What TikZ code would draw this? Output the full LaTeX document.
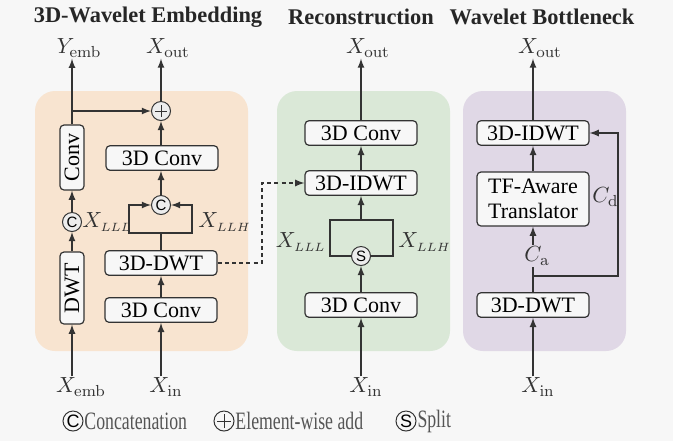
\documentclass[tikz,border=0pt]{standalone}
\usepackage[no-math]{fontspec}
\setmainfont{Liberation Serif}
\newfontfamily\tnr{Liberation Serif}
\newfontfamily\hlv{Liberation Sans}
\usetikzlibrary{arrows}
\definecolor{bgcol}{HTML}{F7F7F7}
\definecolor{linecol}{HTML}{333333}
\definecolor{embcol}{HTML}{F8E4D0}
\definecolor{reccol}{HTML}{DAE8D7}
\definecolor{botcol}{HTML}{E0D8E6}
\definecolor{opfill}{HTML}{EDEDED}
\definecolor{legcol}{HTML}{555555}
\newcommand{\vx}[1]{$X_{#1}$}
\newcommand{\vxs}[1]{$X_{\hbox{\fontsize{6}{7}\selectfont$#1$}}$}
\tikzset{
  blk/.style={draw=linecol, fill=bgcol, rounded corners=2pt, line width=0.6pt, minimum width=56pt, minimum height=12.3pt, inner sep=1pt},
  vblk/.style={blk, rotate=90, minimum height=12pt},
  opc/.style={circle, draw=linecol, fill=opfill, line width=0.5pt, minimum size=9.5pt, inner sep=0pt, font=\hlv\fontsize{7.5}{7.5}\selectfont},
  lbl/.style={inner sep=0.5pt, text=linecol},
  ttl/.style={font=\tnr\bfseries\fontsize{11.2}{13}\selectfont, text=black!85},
  con/.style={draw=linecol, line width=0.6pt},
  leg/.style={circle, draw=linecol, line width=0.5pt, minimum size=10pt, inner sep=0pt, font=\hlv\fontsize{9}{9}\selectfont},
  legtext/.style={anchor=west, inner sep=0.5pt, text=legcol, font=\tnr\fontsize{12.5}{14}\selectfont, xscale=0.71, transform shape}
}
\begin{document}
\begin{tikzpicture}[x=0.5pt, y=-0.5pt, font=\tnr\fontsize{11}{13}\selectfont, >=latex]
  \fill[bgcol] (0,0) rectangle (673,441);
  \useasboundingbox (0,0) rectangle (673,441);
  \foreach \l/\r/\c in {35/248/embcol, 277/450/reccol, 463/626/botcol}{
    \fill[\c, rounded corners=10pt] (\l,91) rectangle (\r,351);
  }
  \node[ttl] (t1) at (148,17) {3D-Wavelet Embedding};
  \node[ttl] (t2) at (361,17) {Reconstruction};
  \node[ttl] (t3) at (542,17) {Wavelet Bottleneck};

  % 3D-Wavelet Embedding
  \node[lbl] (yemb) at (79,48) {$Y_\mathrm{emb}$};
  \node[lbl] (xout1) at (168,48) {\vx{\mathrm{out}}};
  \node[opc, path picture={\draw[linecol, line width=0.5pt] ([xshift=-2.8pt]path picture bounding box.center) -- ([xshift=2.8pt]path picture bounding box.center) ([yshift=-2.8pt]path picture bounding box.center) -- ([yshift=2.8pt]path picture bounding box.center);}] (add) at (161,111) {};
  \node[vblk, minimum width=32.5pt] (conv) at (72,157.5) {Conv};
  \node[blk] (econv1) at (162,158) {3D Conv};
  \node[opc] (cat) at (161,205) {C};
  \node[opc] (catl) at (72,222) {C};
  \node[lbl, anchor=west] (xlll1) at (81,222) {\vxs{LLL}};
  \node[lbl, anchor=west] (xllh1) at (197,222) {\vxs{LLH}};
  \node[vblk, minimum width=36pt] (dwt) at (72,288) {DWT};
  \node[blk] (edwt) at (161,263) {3D-DWT};
  \node[blk] (econv0) at (161,310) {3D Conv};
  \node[lbl] (xemb) at (81,387) {\vx{\mathrm{emb}}};
  \node[lbl] (xin1) at (166,387) {\vx{\mathrm{in}}};
  \coordinate (esplit) at (161,233);

  \draw[con, ->] (xemb.north -| dwt) -- (dwt.west);
  \draw[con, ->] (dwt.east) -- (catl);
  \draw[con, ->] (catl) -- (conv.west);
  \draw[con, ->] (conv.east) -- (conv.east |- yemb.south);
  \draw[con, ->] (conv.east |- add) -- (add);
  \draw[con, ->] (xin1.north -| econv0) -- (econv0.south);
  \draw[con, ->] (econv0.north) -- (edwt.south);
  \draw[con] (edwt.north) -- (esplit);
  \draw[con, ->] (esplit) -| (129,205) -- (cat.west);
  \draw[con, ->] (esplit) -| (192,205) -- (cat.east);
  \draw[con, ->] (cat) -- (econv1.south -| cat);
  \draw[con, ->] (econv1.north -| add) -- (add);
  \draw[con, ->] (add) -- (add |- xout1.south);

  % Reconstruction
  \node[lbl] (xout2) at (368,48) {\vx{\mathrm{out}}};
  \node[blk] (rconv1) at (361,133) {3D Conv};
  \node[blk] (ridwt) at (361,183) {3D-IDWT};
  \node[opc] (split) at (361,256) {S};
  \node[lbl, anchor=east] (xlll2) at (327,242) {\vxs{LLL}};
  \node[lbl, anchor=west] (xllh2) at (397,242) {\vxs{LLH}};
  \node[blk] (rconv0) at (361,305) {3D Conv};
  \node[lbl] (xin2) at (366,387) {\vx{\mathrm{in}}};
  \coordinate (rmerge) at (361,220);

  \draw[con, ->] (xin2.north -| rconv0) -- (rconv0.south);
  \draw[con, ->] (rconv0.north) -- (split);
  \draw[con] (split.west) -| (330,220) -- (393,220) |- (split.east);
  \draw[con, ->] (rmerge) -- (ridwt.south);
  \draw[con, ->] (ridwt.north) -- (rconv1.south);
  \draw[con, ->] (rconv1.north) -- (rconv1.north |- xout2.south);
  \draw[con, dash pattern=on 2pt off 1.6pt, ->] (edwt.east) -- (262,263) -- (262,183) -- (ridwt.west);

  % Wavelet Bottleneck
  \node[lbl] (xout3) at (540,48) {\vx{\mathrm{out}}};
  \node[blk] (bidwt) at (533,133) {3D-IDWT};
  \node[blk, minimum height=27pt, align=center, font=\tnr\fontsize{11}{12.5}\selectfont] (tf) at (533,199) {TF-Aware\\Translator};
  \node[lbl, anchor=west] (cd) at (591,197) {$C_\mathrm{d}$};
  \node[lbl] (ca) at (537,256) {$C_\mathrm{a}$};
  \node[blk] (bdwt) at (533,305) {3D-DWT};
  \node[lbl] (xin3) at (538,387) {\vx{\mathrm{in}}};
  \coordinate (bjoin) at (533,276);

  \draw[con, ->] (xin3.north -| bdwt) -- (bdwt.south);
  \draw[con] (bdwt.north) -- (bdwt.north |- ca.south);
  \draw[con, ->] (tf.south |- ca.north) -- (tf.south);
  \draw[con, ->] (bjoin) -- (618,276) |- (bidwt.east);
  \draw[con, ->] (tf.north) -- (bidwt.south);
  \draw[con, ->] (bidwt.north) -- (bidwt.north |- xout3.south);

  % legend
  \node[leg] (lcat) at (73,421) {C};
  \node[legtext] (lcatt) at (lcat.east) {Concatenation};
  \node[leg, path picture={\draw[linecol, line width=0.5pt] ([xshift=-3.5pt]path picture bounding box.center) -- ([xshift=3.5pt]path picture bounding box.center) ([yshift=-3.5pt]path picture bounding box.center) -- ([yshift=3.5pt]path picture bounding box.center);}] (ladd) at (224,421) {};
  \node[legtext] (laddt) at (ladd.east) {Element-wise add};
  \node[leg] (lsplit) at (406,421) {S};
  \node[legtext] (lsplitt) at (lsplit.east) {Split};
\end{tikzpicture}
\end{document}
